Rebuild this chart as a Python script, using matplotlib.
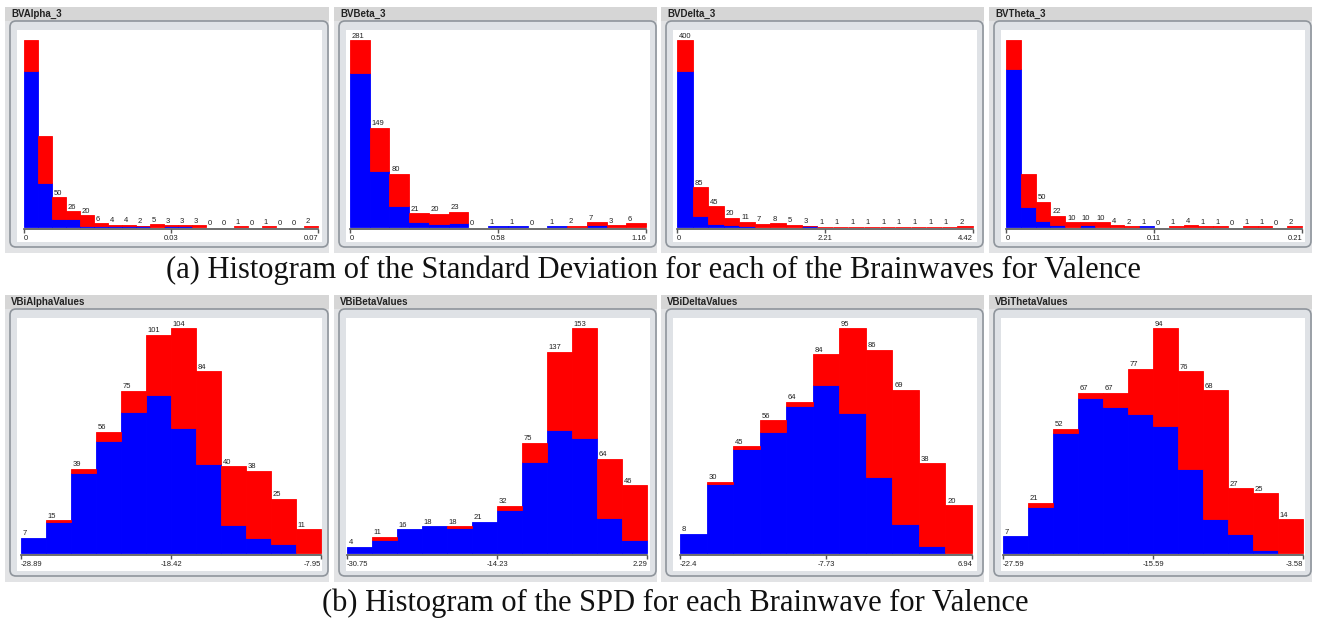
import matplotlib
matplotlib.use("Agg")
import matplotlib.pyplot as plt
from matplotlib.patches import FancyBboxPatch, Rectangle

# ---- data (counts per bin, total and the blue class part) ----
sd_titles = ["BVAlpha_3", "BVBeta_3", "BVDelta_3", "BVTheta_3"]
sd_ticks = [["0", "0.03", "0.07"], ["0", "0.58", "1.16"],
            ["0", "2.21", "4.42"], ["0", "0.11", "0.21"]]

alpha_sd_total = [313, 152, 50, 26, 20, 6, 4, 4, 2, 5, 3, 3, 3, 0, 0, 1, 0, 1, 0, 0, 2]
alpha_sd_blue = [261, 74, 14, 13, 2, 1, 1, 2, 1, 0, 1, 1, 0, 0, 0, 0, 0, 0, 0, 0, 0]
beta_sd_total = [281, 149, 80, 21, 20, 23, 0, 1, 1, 0, 1, 2, 7, 3, 6]
beta_sd_blue = [231, 84, 32, 8, 4, 6, 0, 1, 1, 0, 1, 0, 3, 0, 0]
delta_sd_total = [400, 85, 45, 20, 11, 7, 8, 5, 3, 1, 1, 1, 1, 1, 1, 1, 1, 1, 2]
delta_sd_blue = [333, 24, 6, 4, 2, 0, 0, 0, 2, 0, 0, 0, 0, 0, 0, 0, 0, 0, 0]
theta_sd_total = [370, 105, 50, 22, 10, 10, 10, 4, 2, 1, 0, 1, 4, 1, 1, 0, 1, 1, 0, 2]
theta_sd_blue = [313, 40, 11, 3, 0, 3, 0, 0, 0, 1, 0, 0, 0, 0, 0, 0, 0, 0, 0, 0]

spd_titles = ["VBiAlphaValues", "VBiBetaValues", "VBiDeltaValues", "VBiThetaValues"]
spd_ticks = [["-28.89", "-18.42", "-7.95"], ["-30.75", "-14.23", "2.29"],
             ["-22.4", "-7.73", "6.94"], ["-27.59", "-15.59", "-3.58"]]

alpha_spd_total = [7, 15, 39, 56, 75, 101, 104, 84, 40, 38, 25, 11]
alpha_spd_blue = [7, 14, 37, 52, 65, 73, 58, 41, 13, 7, 4, 0]
beta_spd_total = [4, 11, 16, 18, 18, 21, 32, 75, 137, 153, 64, 46]
beta_spd_blue = [4, 9, 16, 18, 17, 21, 29, 62, 84, 78, 24, 9]
delta_spd_total = [8, 30, 45, 56, 64, 84, 95, 86, 69, 38, 20]
delta_spd_blue = [8, 29, 44, 51, 62, 71, 59, 32, 12, 3, 0]
theta_spd_total = [7, 21, 52, 67, 67, 77, 94, 76, 68, 27, 25, 14]
theta_spd_blue = [7, 19, 50, 65, 61, 58, 53, 35, 14, 8, 1, 0]

sd_totals = [alpha_sd_total, beta_sd_total, delta_sd_total, theta_sd_total]
sd_blues = [alpha_sd_blue, beta_sd_blue, delta_sd_blue, theta_sd_blue]
spd_totals = [alpha_spd_total, beta_spd_total, delta_spd_total, theta_spd_total]
spd_blues = [alpha_spd_blue, beta_spd_blue, delta_spd_blue, theta_spd_blue]

# ---- layout in pixels ----
W, H = 1319, 619
white_x = [(17, 322), (346, 650), (673, 977), (1001, 1305)]
sd_bars_x = [(24, 318), (350, 646), (677, 973), (1006, 1302)]
spd_bars_x = [(21, 321), (347, 647), (680, 972), (1003, 1303)]
# (white top, white bottom, baseline, top of highest bar, header center)
sd_rows = (30, 242, 227, 40, 14)
spd_rows = (318, 571, 552.7, 328.3, 302)

fig = plt.figure(figsize=(W / 100, H / 100), dpi=100)
bg = fig.add_axes([0, 0, 1, 1], zorder=0)
bg.set_xlim(0, W)
bg.set_ylim(H, 0)
bg.axis("off")

lab_font = "Liberation Sans"


def panel(title, totals, blues, ticks, wx, bx, rowgeom):
    wtop, wbot, base, topbar, hy = rowgeom
    # gray surround, header strip and rounded frame
    bg.add_patch(Rectangle((wx[0] - 12, hy - 7), wx[1] - wx[0] + 19, wbot - hy + 18,
                           facecolor="#e2e3e5", edgecolor="none"))
    bg.add_patch(Rectangle((wx[0] - 12, hy - 7), wx[1] - wx[0] + 19, 14,
                           facecolor="#d6d6d6", edgecolor="none"))
    bg.add_patch(FancyBboxPatch((wx[0] - 7, wtop - 9), wx[1] - wx[0] + 13, wbot - wtop + 14,
                                boxstyle="round,pad=0,rounding_size=6",
                                facecolor="#dfe2e6", edgecolor="#8f959c", linewidth=1.2))
    bg.text(wx[0] - 6, hy, title, fontsize=7, fontweight="bold", family=lab_font,
            color="#222222", ha="left", va="center")

    n = len(totals)
    red = [t - b for t, b in zip(totals, blues)]
    unit = (bx[1] - bx[0]) / n
    ax = fig.add_axes([wx[0] / W, 1 - wbot / H, (wx[1] - wx[0]) / W, (wbot - wtop) / H], zorder=2)
    ax.set_facecolor("white")
    mx = max(totals)
    s = mx / (base - topbar)
    ax.set_ylim(-(wbot - base) * s, mx + (topbar - wtop) * s)
    ax.set_xlim(-(bx[0] - wx[0]) / unit, n + (wx[1] - bx[1]) / unit)

    xs = list(range(n))
    ax.bar(xs, blues, width=1, align="edge", color="#0000ff", linewidth=0.6,
           edgecolor=["#0000ff" if v > 0 else "none" for v in blues])
    ax.bar(xs, red, width=1, align="edge", bottom=blues, color="#ff0000", linewidth=0.6,
           edgecolor=["#ff0000" if v > 0 else "none" for v in red])
    for i, t in enumerate(totals):
        if len(str(t)) * 4.0 + 3 > unit:
            continue
        ax.annotate(str(t), xy=(i, t), xytext=(1.3, 0.3), textcoords="offset points",
                    ha="left", va="bottom", fontsize=5.5, family=lab_font, color="#222222",
                    annotation_clip=True)

    for side in ["top", "left", "right"]:
        ax.spines[side].set_visible(False)
    ax.spines["bottom"].set_position(("data", -2.3 * s))
    ax.spines["bottom"].set_bounds(0, n)
    ax.spines["bottom"].set_color("#555555")
    ax.spines["bottom"].set_linewidth(1.2)
    ax.set_yticks([])
    ax.set_xticks([0, n / 2, n])
    ax.set_xticklabels(ticks, fontsize=5.5, family=lab_font, color="#222222")
    ax.tick_params(axis="x", direction="out", length=3, width=1, color="#555555", pad=1.2)
    lbls = ax.get_xticklabels()
    lbls[0].set_ha("left")
    lbls[2].set_ha("right")


for i in range(4):
    panel(sd_titles[i], sd_totals[i], sd_blues[i], sd_ticks[i], white_x[i], sd_bars_x[i], sd_rows)
    panel(spd_titles[i], spd_totals[i], spd_blues[i], spd_ticks[i], white_x[i], spd_bars_x[i], spd_rows)

bg.text(166, 270, "(a) Histogram of the Standard Deviation for each of the Brainwaves for Valence",
        fontsize=22, family="Liberation Serif", ha="left", va="center", color="#111111")
bg.text(1028, 603, "(b) Histogram of the SPD for each Brainwave for Valence",
        fontsize=22, family="Liberation Serif", ha="right", va="center", color="#111111")

fig.savefig("out.png", dpi=100)
